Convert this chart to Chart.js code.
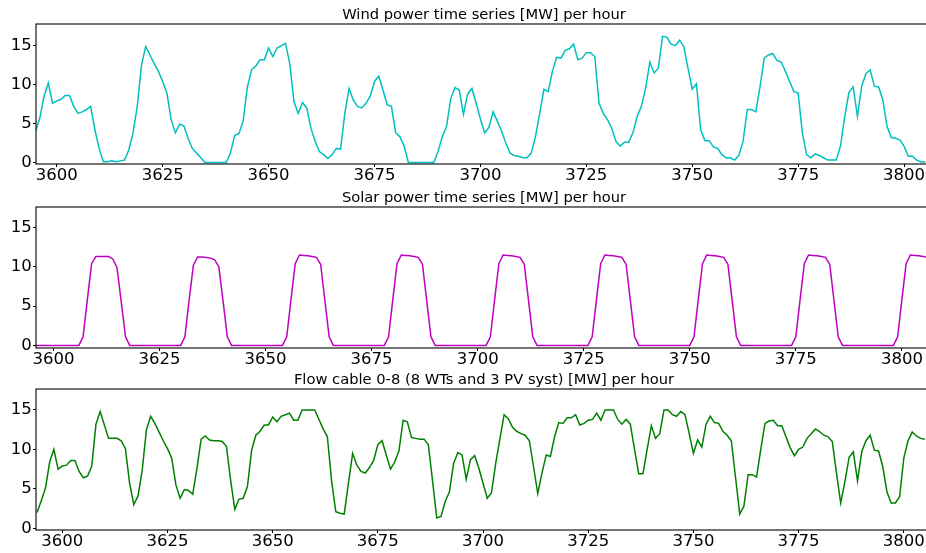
<!DOCTYPE html>
<html>
<head>
<meta charset="utf-8">
<script src="https://cdn.jsdelivr.net/npm/chart.js@4.4.0/dist/chart.umd.min.js"></script>
<style>
  html, body { margin: 0; padding: 0; background: #fff; overflow: hidden; }
  #wrap { position: relative; width: 926px; height: 553px; overflow: hidden; }
  canvas { position: absolute; left: 0; }
</style>
</head>
<body>
<div id="wrap">
  <canvas id="windChart" width="940" height="186" style="top:0px"></canvas>
  <canvas id="solarChart" width="940" height="187" style="top:183px"></canvas>
  <canvas id="flowChart" width="940" height="187" style="top:365px"></canvas>
</div>
<script>
// tick labels
const xTicks = [3600, 3625, 3650, 3675, 3700, 3725, 3750, 3775, 3800];
const yTicks = [0, 5, 10, 15];

// wind power, hours 3595..3805
const windStart = 3595;
const windValues = [
  4.0, 5.7, 8.5, 10.2, 7.6, 7.9, 8.1, 8.6, 8.6, 7.2,
  6.3, 6.5, 6.8, 7.2, 4.2, 1.8, 0.1, 0.1, 0.2, 0.1,
  0.2, 0.3, 1.6, 3.8, 7.2, 12.5, 14.9, 13.8, 12.7, 11.7,
  10.4, 8.9, 5.5, 3.8, 4.9, 4.7, 3.1, 1.8, 1.2, 0.6,
  0, 0, 0, 0, 0, 0, 1.2, 3.5, 3.7, 5.3,
  9.7, 11.9, 12.4, 13.2, 13.2, 14.7, 13.6, 14.7, 15.0, 15.3,
  12.7, 7.8, 6.3, 7.7, 7.0, 4.4, 2.7, 1.4, 1.0, 0.5,
  1.0, 1.8, 1.7, 6.3, 9.5, 8.0, 7.2, 7.0, 7.6, 8.5,
  10.4, 11.1, 9.3, 7.4, 7.2, 3.8, 3.3, 2.1, 0, 0,
  0, 0, 0, 0, 0, 1.4, 3.3, 4.6, 8.2, 9.6,
  9.3, 6.2, 8.8, 9.5, 7.6, 5.6, 3.8, 4.5, 6.5, 5.3,
  4.0, 2.5, 1.2, 0.9, 0.8, 0.6, 0.6, 1.2, 3.3, 6.3,
  9.4, 9.1, 11.7, 13.5, 13.4, 14.4, 14.6, 15.2, 13.2, 13.4,
  14.1, 14.1, 13.6, 7.6, 6.3, 5.5, 4.4, 2.7, 2.1, 2.6,
  2.6, 3.8, 5.9, 7.2, 9.5, 12.9, 11.5, 12.1, 16.2, 16.1,
  15.2, 15.0, 15.7, 14.9, 12.1, 9.4, 10.1, 4.2, 2.8, 2.8,
  2.0, 1.8, 1.0, 0.6, 0.6, 0.3, 0.9, 2.7, 6.8, 6.8,
  6.5, 9.7, 13.4, 13.8, 14.0, 13.1, 12.9, 11.7, 10.4, 9.1,
  8.9, 3.8, 1.0, 0.6, 1.1, 0.9, 0.6, 0.3, 0.3, 0.3,
  2.1, 5.9, 9.0, 9.7, 5.9, 9.8, 11.4, 11.9, 9.8, 9.7,
  8.0, 4.6, 3.2, 3.1, 2.9, 2.1, 0.8, 0.8, 0.3, 0.05,
  0.05
];

// solar power, hours 3595..3806
const solarStart = 3595;
const solarValues = [
  0, 0, 0, 0, 0, 0, 0, 0, 0, 0, 0,
  0, 1.1, 5.8, 10.4, 11.3, 11.3, 11.3, 11.3, 11.0, 9.9, 5.5, 1.1,
  0, 0, 0, 0, 0, 0, 0, 0, 0, 0, 0, 0,
  0, 1.1, 5.8, 10.2, 11.25, 11.25, 11.2, 11.1, 10.9, 10.0, 5.6, 1.1,
  0, 0, 0, 0, 0, 0, 0, 0, 0, 0, 0, 0,
  0, 1.1, 5.8, 10.4, 11.5, 11.45, 11.4, 11.3, 11.2, 10.3, 5.7, 1.1,
  0, 0, 0, 0, 0, 0, 0, 0, 0, 0, 0, 0,
  0, 1.1, 5.8, 10.4, 11.5, 11.45, 11.4, 11.3, 11.2, 10.3, 5.7, 1.1,
  0, 0, 0, 0, 0, 0, 0, 0, 0, 0, 0, 0,
  0, 1.1, 5.8, 10.4, 11.5, 11.45, 11.4, 11.3, 11.2, 10.3, 5.7, 1.1,
  0, 0, 0, 0, 0, 0, 0, 0, 0, 0, 0, 0,
  0, 1.1, 5.8, 10.4, 11.5, 11.45, 11.4, 11.3, 11.2, 10.3, 5.7, 1.1,
  0, 0, 0, 0, 0, 0, 0, 0, 0, 0, 0, 0,
  0, 1.1, 5.8, 10.4, 11.5, 11.45, 11.4, 11.3, 11.2, 10.3, 5.7, 1.1,
  0, 0, 0, 0, 0, 0, 0, 0, 0, 0, 0, 0,
  0, 1.1, 5.8, 10.4, 11.5, 11.45, 11.4, 11.3, 11.2, 10.3, 5.7, 1.1,
  0, 0, 0, 0, 0, 0, 0, 0, 0, 0, 0, 0,
  0, 1.1, 5.8, 10.4, 11.5, 11.45, 11.4, 11.3, 11.2
];

// flow in cable 0-8, hours 3594..3805
const flowStart = 3594;
const flowValues = [
  2.0, 3.5, 5.1, 8.4, 10.0, 7.5, 7.9, 8.0, 8.6, 8.6,
  7.2, 6.4, 6.6, 7.9, 13.2, 14.8, 13.1, 11.4, 11.4, 11.4,
  11.1, 10.1, 5.7, 3.0, 4.1, 7.4, 12.5, 14.2, 13.3, 12.2,
  11.1, 10.1, 8.9, 5.5, 3.8, 4.9, 4.8, 4.3, 7.6, 11.3,
  11.7, 11.2, 11.1, 11.1, 11.0, 10.4, 6.1, 2.4, 3.7, 3.8,
  5.3, 9.9, 11.8, 12.3, 13.1, 13.1, 14.1, 13.5, 14.2, 14.4,
  14.6, 13.7, 13.7, 15.0, 15.0, 15.0, 15.0, 13.8, 12.6, 11.6,
  6.0, 2.1, 1.9, 1.8, 5.7, 9.5, 8.0, 7.2, 7.0, 7.7,
  8.6, 10.6, 11.1, 9.3, 7.5, 8.4, 9.8, 13.7, 13.5, 11.5,
  11.4, 11.3, 11.3, 10.6, 6.0, 1.3, 1.5, 3.4, 4.6, 8.2,
  9.6, 9.3, 6.2, 8.7, 9.2, 7.6, 5.7, 3.8, 4.5, 8.2,
  11.3, 14.4, 13.9, 12.8, 12.3, 12.0, 11.8, 11.1, 7.8, 4.4,
  7.0, 9.3, 9.1, 11.6, 13.4, 13.3, 14.0, 14.0, 14.4, 13.1,
  13.3, 13.7, 13.8, 14.6, 13.7, 15.0, 15.0, 15.0, 13.8, 13.2,
  13.8, 13.2, 10.0, 6.9, 6.9, 10.0, 13.0, 11.4, 12.0, 15.0,
  15.0, 14.4, 14.2, 14.8, 14.4, 12.0, 9.5, 11.2, 10.3, 13.2,
  14.2, 13.4, 13.3, 12.3, 11.8, 11.1, 6.5, 1.8, 2.8, 6.8,
  6.8, 6.5, 10.0, 13.3, 13.6, 13.7, 13.0, 13.0, 11.6, 10.2,
  9.2, 10.0, 10.3, 11.4, 12.0, 12.6, 12.25, 11.8, 11.6, 11.0,
  7.0, 3.2, 5.9, 9.0, 9.7, 6.0, 9.7, 11.1, 11.8, 9.9,
  9.8, 7.8, 4.6, 3.2, 3.2, 4.0, 8.9, 11.1, 12.2, 11.7,
  11.4, 11.3
];

// matplotlib-like box round the plot area
const frame = {
  id: 'frame',
  afterDraw(chart) {
    const { ctx, chartArea: a } = chart;
    ctx.save();
    ctx.strokeStyle = '#000';
    ctx.lineWidth = 1.1;
    ctx.strokeRect(a.left, a.top, a.right - a.left, a.bottom - a.top);
    ctx.restore();
  }
};

function toPoints(start, values) {
  return values.map((v, i) => ({ x: start + i, y: v }));
}

function makeChart(id, title, color, start, values, xMin, xMax, yMin, yMax) {
  const tickFont = { family: 'DejaVu Sans', size: 16.5, lineHeight: 1 };
  return new Chart(document.getElementById(id), {
    type: 'line',
    data: {
      datasets: [{
        data: toPoints(start, values),
        borderColor: color,
        borderWidth: 1.5,
        pointRadius: 0,
        tension: 0,
        fill: false
      }]
    },
    options: {
      responsive: false,
      animation: false,
      layout: { padding: { left: 0, right: 8, top: 0, bottom: 0 } },
      plugins: {
        legend: { display: false },
        tooltip: { enabled: false },
        title: {
          display: true,
          text: title,
          fullSize: false,
          color: '#000',
          font: { family: 'DejaVu Sans', size: 14.7, weight: 'normal', lineHeight: 1 },
          padding: { top: 8.2, bottom: 1.1 }
        }
      },
      scales: {
        x: {
          type: 'linear',
          min: xMin,
          max: xMax,
          afterBuildTicks: axis => { axis.ticks = xTicks.map(v => ({ value: v })); },
          afterFit: axis => { axis.height = 22; },
          grid: { drawOnChartArea: false, drawTicks: true, tickLength: 3, color: '#000' },
          border: { display: false },
          ticks: {
            autoSkip: false,
            maxRotation: 0,
            padding: 0,
            color: '#000',
            font: tickFont,
            callback: v => String(v)
          }
        },
        y: {
          min: yMin,
          max: yMax,
          afterBuildTicks: axis => { axis.ticks = yTicks.map(v => ({ value: v })); },
          afterFit: axis => { axis.width = 36; },
          grid: { drawOnChartArea: false, drawTicks: true, tickLength: 3, color: '#000' },
          border: { display: false },
          ticks: {
            padding: 1.3,
            color: '#000',
            font: tickFont,
            callback: v => String(v)
          }
        }
      }
    },
    plugins: [frame]
  });
}

makeChart('windChart', 'Wind power time series [MW] per hour', '#00bfbf',
  windStart, windValues, 3595.1, 3806.6, -0.2, 17.78);
makeChart('solarChart', 'Solar power time series [MW] per hour', '#bf00bf',
  solarStart, solarValues, 3595.9, 3807.1, -0.33, 17.61);
makeChart('flowChart', 'Flow cable 0-8 (8 WTs and 3 PV syst) [MW] per hour', '#008000',
  flowStart, flowValues, 3593.75, 3806.7, -0.22, 17.66);
</script>
</body>
</html>
